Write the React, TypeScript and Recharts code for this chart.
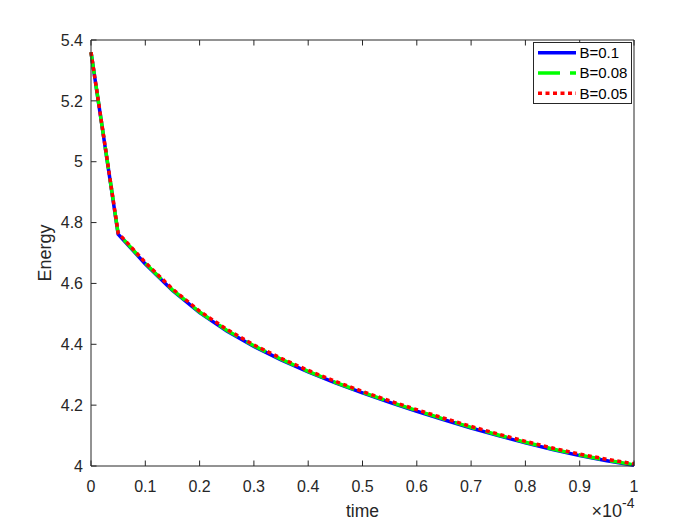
import React from 'react';
import { LineChart, Line, XAxis, YAxis, Legend } from 'recharts';

// time in units of 1e-4
const time = [0, 0.05, 0.1, 0.15, 0.2, 0.25, 0.3, 0.35, 0.4, 0.45, 0.5, 0.55, 0.6, 0.65, 0.7, 0.75, 0.8, 0.85, 0.9, 0.95, 1];
const energyB01 = [5.36, 4.762, 4.664, 4.577, 4.504, 4.444, 4.393, 4.349, 4.309, 4.273, 4.240, 4.209, 4.180, 4.152, 4.125, 4.100, 4.076, 4.054, 4.034, 4.017, 4.002];
const energyB008 = [5.36, 4.764, 4.666, 4.579, 4.506, 4.446, 4.395, 4.351, 4.311, 4.275, 4.242, 4.211, 4.182, 4.154, 4.127, 4.102, 4.078, 4.056, 4.036, 4.019, 4.004];
const energyB005 = [5.36, 4.766, 4.669, 4.582, 4.509, 4.449, 4.398, 4.354, 4.314, 4.278, 4.245, 4.214, 4.185, 4.157, 4.130, 4.105, 4.081, 4.059, 4.039, 4.022, 4.007];
const xTicks = [0, 0.1, 0.2, 0.3, 0.4, 0.5, 0.6, 0.7, 0.8, 0.9, 1];
const yTicks = [4, 4.2, 4.4, 4.6, 4.8, 5, 5.2, 5.4];
const seriesNames = ['B=0.1', 'B=0.08', 'B=0.05'];
const seriesColors = ['#0000FF', '#00FF00', '#FF0000'];
const seriesDashes = [undefined, '22 10', '4 3.5'];

const data = time.map((t, i) => ({
  t,
  b1: energyB01[i],
  b2: energyB008[i],
  b3: energyB005[i],
}));

const FONT = '"Liberation Sans", Arial, Helvetica, sans-serif';
const AX = '#262626';
const fmt = (v: number) => String(Math.round(v * 10) / 10);

function BottomTick({ x, y, payload }: any) {
  return (
    <g>
      <line x1={x} x2={x} y1={y} y2={y - 5.5} stroke={AX} strokeWidth={1} />
      <text x={x} y={y + 26} textAnchor="middle" fontSize={16} fill={AX} fontFamily={FONT}>
        {fmt(payload.value)}
      </text>
    </g>
  );
}

function TopTick({ x, y }: any) {
  return <line x1={x} x2={x} y1={y} y2={y + 5.5} stroke={AX} strokeWidth={1} />;
}

function LeftTick({ x, y, payload }: any) {
  return (
    <g>
      <line x1={x} x2={x + 5.5} y1={y} y2={y} stroke={AX} strokeWidth={1} />
      <text x={x - 8} y={y + 5.7} textAnchor="end" fontSize={16} fill={AX} fontFamily={FONT}>
        {fmt(payload.value)}
      </text>
    </g>
  );
}

function RightTick({ x, y }: any) {
  return <line x1={x} x2={x - 5.5} y1={y} y2={y} stroke={AX} strokeWidth={1} />;
}

function XLabel({ viewBox }: any) {
  const { x, y, width } = viewBox;
  return (
    <g fontFamily={FONT} fill={AX}>
      <text x={x + width / 2} y={y + 51} textAnchor="middle" fontSize={17.5} fill={AX}>
        time
      </text>
      <text x={x + width - 12} y={y + 51} textAnchor="end" fontSize={18} fill={AX}>
        ×10
      </text>
      <text x={x + width - 12} y={y + 42} textAnchor="start" fontSize={14} fill={AX}>
        -4
      </text>
    </g>
  );
}

function YLabel({ viewBox }: any) {
  const { x, y, height } = viewBox;
  const cx = x - 0.5;
  const cy = y + height / 2;
  return (
    <text
      x={cx}
      y={cy}
      transform={`rotate(-90, ${cx}, ${cy})`}
      textAnchor="middle"
      fontSize={18}
      fill={AX}
      fontFamily={FONT}
    >
      Energy
    </text>
  );
}

function LegendBox({ payload }: any) {
  const items = [...(payload || [])].sort(
    (a: any, b: any) => seriesNames.indexOf(a.value) - seriesNames.indexOf(b.value)
  );
  return (
    <svg width={99} height={62} style={{ display: 'block' }}>
      <rect x={0.5} y={0.5} width={98} height={61} fill="#fff" stroke={AX} strokeWidth={1} />
      {items.map((p: any) => {
        const i = seriesNames.indexOf(p.value);
        const cy = 10.7 + i * 20.3;
        return (
          <g key={p.value}>
            <line
              x1={5}
              x2={43}
              y1={cy}
              y2={cy}
              stroke={seriesColors[i]}
              strokeWidth={3.5}
              strokeDasharray={seriesDashes[i]}
            />
            <text x={46.5} y={cy + 5.3} fontSize={15} fill="#000" fontFamily={FONT}>
              {p.value}
            </text>
          </g>
        );
      })}
    </svg>
  );
}

export default function App() {
  const keys = ['b1', 'b2', 'b3'];
  return (
    <div style={{ position: 'absolute', left: 0, top: 0, width: 700, height: 525, background: '#fff' }}>
      <LineChart width={700} height={525} data={data} margin={{ top: 39, right: 65, bottom: 29, left: 51 }}>
        <XAxis
          dataKey="t"
          type="number"
          domain={[0, 1]}
          ticks={xTicks}
          interval={0}
          height={30}
          tickSize={0}
          tickMargin={0}
          tick={<BottomTick />}
          tickLine={false}
          axisLine={{ stroke: AX, strokeWidth: 1 }}
          label={<XLabel />}
        />
        <XAxis
          xAxisId="top"
          orientation="top"
          dataKey="t"
          type="number"
          domain={[0, 1]}
          ticks={xTicks}
          interval={0}
          height={1}
          tickSize={0}
          tickMargin={0}
          tick={<TopTick />}
          tickLine={false}
          axisLine={{ stroke: AX, strokeWidth: 1 }}
        />
        <YAxis
          type="number"
          domain={[4, 5.4]}
          ticks={yTicks}
          interval={0}
          width={40}
          tickSize={0}
          tickMargin={0}
          tick={<LeftTick />}
          tickLine={false}
          axisLine={{ stroke: AX, strokeWidth: 1 }}
          label={<YLabel />}
        />
        <YAxis
          yAxisId="right"
          orientation="right"
          type="number"
          domain={[4, 5.4]}
          ticks={yTicks}
          interval={0}
          width={1}
          tickSize={0}
          tickMargin={0}
          tick={<RightTick />}
          tickLine={false}
          axisLine={{ stroke: AX, strokeWidth: 1 }}
        />
        {keys.map((k, i) => (
          <Line
            key={k}
            type="linear"
            dataKey={k}
            name={seriesNames[i]}
            stroke={seriesColors[i]}
            strokeWidth={3.5}
            strokeDasharray={seriesDashes[i]}
            dot={false}
            activeDot={false}
            isAnimationActive={false}
          />
        ))}
        <Legend
          layout="horizontal"
          verticalAlign="middle"
          align="center"
          content={<LegendBox />}
          wrapperStyle={{ left: 533, top: 42, width: 99, height: 62, lineHeight: 0 }}
        />
      </LineChart>
    </div>
  );
}
